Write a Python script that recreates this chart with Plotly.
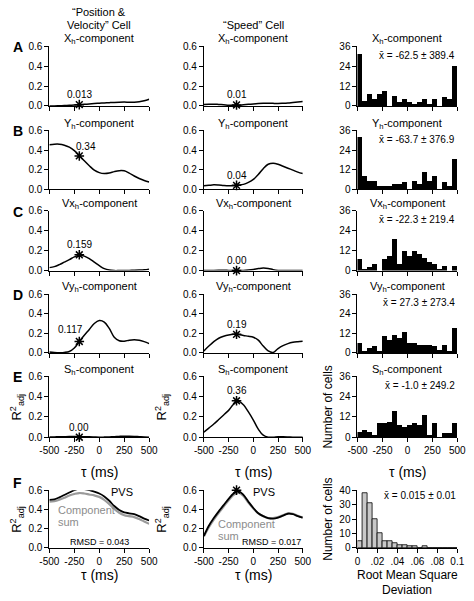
import plotly.graph_objects as go

# ---------------- data ----------------
TAU = [-500, -450, -400, -350, -300, -250, -200, -150, -100, -50, 0,
       50, 100, 150, 200, 250, 300, 350, 400, 450, 500]

# "Position & Velocity" cell
pv_xh = [0.0, 0.0, 0.002, 0.004, 0.006, 0.009, 0.013, 0.016, 0.02, 0.024, 0.027,
         0.03, 0.033, 0.036, 0.038, 0.039, 0.038, 0.038, 0.042, 0.052, 0.068]
pv_yh = [0.455, 0.46, 0.46, 0.45, 0.43, 0.395, 0.345, 0.29, 0.24, 0.195, 0.17,
         0.16, 0.165, 0.18, 0.19, 0.188, 0.165, 0.135, 0.11, 0.09, 0.075]
pv_vx = [0.03, 0.04, 0.06, 0.085, 0.11, 0.138, 0.155, 0.145, 0.12, 0.085, 0.05,
         0.02, 0.005, 0.0, 0.0, 0.0, 0.002, 0.003, 0.005, 0.008, 0.015]
pv_vy = [0.01, 0.005, 0.003, 0.005, 0.015, 0.05, 0.117, 0.18, 0.24, 0.3, 0.33,
         0.315, 0.25, 0.16, 0.125, 0.12, 0.13, 0.135, 0.13, 0.115, 0.095]
pv_sh = [0.002, 0.003, 0.004, 0.005, 0.006, 0.006, 0.006, 0.005, 0.004, 0.002, 0.0,
         0.001, 0.003, 0.005, 0.008, 0.01, 0.01, 0.008, 0.005, 0.002, 0.0]
pv_pvs = [0.5, 0.505, 0.525, 0.55, 0.575, 0.6, 0.615, 0.61, 0.6, 0.585, 0.565,
          0.535, 0.49, 0.435, 0.395, 0.37, 0.36, 0.35, 0.33, 0.305, 0.285]
pv_sum = [0.48, 0.485, 0.5, 0.52, 0.545, 0.56, 0.57, 0.565, 0.555, 0.545, 0.53,
          0.5, 0.455, 0.405, 0.365, 0.34, 0.33, 0.32, 0.3, 0.275, 0.25]
pv_star_tau = -200
pv_star_vals = [0.013, 0.34, 0.159, 0.117, 0.0, 0.615]
pv_star_text = ["0.013", "0.34", "0.159", "0.117", "0.00", ""]

# "Speed" cell
sp_xh = [0.015, 0.018, 0.018, 0.015, 0.012, 0.008, 0.006, 0.008, 0.012, 0.016, 0.02,
         0.024, 0.027, 0.028, 0.026, 0.025, 0.027, 0.03, 0.035, 0.04, 0.045]
sp_yh = [0.035, 0.04, 0.045, 0.043, 0.038, 0.035, 0.037, 0.042, 0.05, 0.07, 0.1,
         0.15, 0.21, 0.255, 0.265, 0.255, 0.235, 0.215, 0.195, 0.175, 0.16]
sp_vx = [0.0, 0.0, 0.002, 0.003, 0.003, 0.002, 0.001, 0.0, 0.002, 0.006, 0.012,
         0.02, 0.026, 0.022, 0.01, 0.002, 0.0, 0.0, 0.0, 0.0, 0.0]
sp_vy = [0.02, 0.07, 0.115, 0.15, 0.17, 0.183, 0.19, 0.188, 0.178, 0.17, 0.16,
         0.13, 0.07, 0.02, 0.005, 0.045, 0.075, 0.095, 0.108, 0.115, 0.12]
sp_sh = [0.05, 0.09, 0.13, 0.175, 0.22, 0.265, 0.325, 0.355, 0.32, 0.25, 0.17,
         0.08, 0.02, 0.0, 0.0, 0.005, 0.005, 0.003, 0.0, 0.0, 0.0]
sp_pvs = [0.125, 0.23, 0.31, 0.38, 0.445, 0.51, 0.565, 0.59, 0.55, 0.48, 0.415,
          0.36, 0.33, 0.31, 0.305, 0.315, 0.335, 0.355, 0.35, 0.33, 0.315]
sp_sum = [0.12, 0.215, 0.295, 0.365, 0.43, 0.495, 0.55, 0.575, 0.54, 0.47, 0.41,
          0.36, 0.33, 0.31, 0.31, 0.32, 0.34, 0.36, 0.355, 0.335, 0.315]
sp_star_tau = -170
sp_star_vals = [0.01, 0.04, 0.0, 0.19, 0.36, 0.6]
sp_star_text = ["0.01", "0.04", "0.00", "0.19", "0.36", ""]

# population histograms of optimal tau
HIST_TAU = [-475, -425, -375, -325, -275, -225, -175, -125, -75, -25,
            25, 75, 125, 175, 225, 275, 325, 375, 425, 475]
hist_xh = [31, 3, 7, 4, 7, 9, 0, 6, 2, 4, 2, 1, 2, 4, 1, 4, 0, 5, 4, 24]
hist_yh = [32, 8, 5, 5, 2, 2, 2, 3, 3, 4, 0, 5, 3, 10, 5, 8, 0, 4, 2, 18]
hist_vx = [7, 1, 2, 4, 0, 7, 9, 19, 4, 12, 9, 12, 10, 8, 5, 4, 1, 3, 0, 3]
hist_vy = [6, 1, 3, 4, 1, 10, 8, 11, 9, 13, 6, 6, 5, 5, 5, 4, 2, 5, 1, 15]
hist_sh = [3, 4, 3, 1, 8, 8, 9, 15, 7, 6, 7, 8, 7, 13, 1, 8, 0, 2, 2, 8]
hist_means = ["x\u0304 = -62.5 \u00b1 389.4", "x\u0304 = -63.7 \u00b1 376.9",
              "x\u0304 = -22.3 \u00b1 219.4", "x\u0304 = 27.3 \u00b1 273.4",
              "x\u0304 = -1.0 \u00b1 249.2"]

RMSD_BINS = [0.0025, 0.0075, 0.0125, 0.0175, 0.0225, 0.0275, 0.0325, 0.0375, 0.0425, 0.0475,
             0.0525, 0.0575, 0.0625, 0.0675, 0.0725, 0.0775, 0.0825, 0.0875, 0.0925, 0.0975]
rmsd_counts = [5, 38, 31, 20, 10, 5, 5, 3, 2, 2, 1, 1, 0, 1, 0, 0, 0, 0, 0, 0]
rmsd_mean = "x\u0304 = 0.015 \u00b1 0.01"

COMP_TITLES = ["X<sub>h</sub>-component", "Y<sub>h</sub>-component",
               "Vx<sub>h</sub>-component", "Vy<sub>h</sub>-component",
               "S<sub>h</sub>-component"]
PANEL_LETTERS = ["A", "B", "C", "D", "E", "F"]
TAU_TICKS = [-500, -250, 0, 250, 500]
TAU_TICKTEXT = ["-500", "-250", "0", "250", "500"]
R_TICKS = [0, 0.2, 0.4, 0.6]
R_TICKTEXT = ["0.0", "0.2", "0.4", "0.6"]
N_TICKS = [0, 12, 24, 36]
RMSD_TICKS = [0, 0.02, 0.04, 0.06, 0.08, 0.1]
RMSD_TICKTEXT = ["0", ".02", ".04", ".06", ".08", "0.1"]

# ---------------- layout geometry (pixels) ----------------
W, H = 474, 601
FONT = "Liberation Sans, Arial, sans-serif"
COLS = [(41, 145), (202, 305), (362, 466)]
ROWS = [(41, 102), (127, 187), (209, 270), (294, 354), (378, 440), (494, 553)]


def px(x):
    return x / W


def py(y):
    return 1 - y / H


def aid(r, c):
    return r * 3 + c + 1


fig = go.Figure()
layout = {}
ann = []

axis_style = dict(showline=True, linecolor="black", linewidth=1, ticks="outside",
                  ticklen=4, tickwidth=1, tickcolor="black", showgrid=False,
                  zeroline=False, fixedrange=True, tickangle=0,
                  tickfont=dict(size=10, color="black", family=FONT))

for r in range(6):
    for c in range(3):
        i = aid(r, c)
        x0, x1 = COLS[c]
        ytop, ybot = ROWS[r]
        xa = dict(axis_style, domain=[px(x0), px(x1)], anchor=f"y{i}")
        ya = dict(axis_style, domain=[py(ybot), py(ytop)], anchor=f"x{i}")
        if c == 2 and r == 5:
            xa.update(range=[0, 0.1], tickvals=RMSD_TICKS, ticktext=RMSD_TICKTEXT)
            ya.update(range=[0, 40], tickvals=[0, 10, 20, 30, 40])
        else:
            xa.update(range=[-500, 500], tickvals=TAU_TICKS, ticktext=TAU_TICKTEXT,
                      showticklabels=(r >= 4))
            if c == 2:
                ya.update(range=[0, 36], tickvals=N_TICKS)
            else:
                ya.update(range=[0, 0.6], tickvals=R_TICKS, ticktext=R_TICKTEXT)
        layout["xaxis" if i == 1 else f"xaxis{i}"] = xa
        layout["yaxis" if i == 1 else f"yaxis{i}"] = ya


def ref(i):
    return ("x" if i == 1 else f"x{i}"), ("y" if i == 1 else f"y{i}")


cells = [
    dict(series=[pv_xh, pv_yh, pv_vx, pv_vy, pv_sh], pvs=pv_pvs, csum=pv_sum,
         star_tau=pv_star_tau, star_vals=pv_star_vals, star_text=pv_star_text),
    dict(series=[sp_xh, sp_yh, sp_vx, sp_vy, sp_sh], pvs=sp_pvs, csum=sp_sum,
         star_tau=sp_star_tau, star_vals=sp_star_vals, star_text=sp_star_text),
]
label_shift = {  # (col,row) -> (xshift, yshift) of the value label
    (0, 1): (7, 9), (0, 3): (-9, 12),
}

for c, cell in enumerate(cells):
    for r in range(6):
        i = aid(r, c)
        xr, yr = ref(i)
        if r < 5:
            fig.add_trace(go.Scatter(x=TAU, y=cell["series"][r], mode="lines",
                                     line=dict(color="black", width=1.5, shape="spline"),
                                     xaxis=xr, yaxis=yr, hoverinfo="skip"))
        else:
            fig.add_trace(go.Scatter(x=TAU, y=cell["csum"], mode="lines",
                                     line=dict(color="#9a9a9a", width=2.2, shape="spline"),
                                     xaxis=xr, yaxis=yr, hoverinfo="skip"))
            fig.add_trace(go.Scatter(x=TAU, y=cell["pvs"], mode="lines",
                                     line=dict(color="black", width=1.8, shape="spline"),
                                     xaxis=xr, yaxis=yr, hoverinfo="skip"))
        fig.add_trace(go.Scatter(x=[cell["star_tau"]], y=[cell["star_vals"][r]],
                                 mode="markers",
                                 marker=dict(symbol="asterisk-open", size=8, color="black",
                                             line=dict(color="black", width=1.5)),
                                 xaxis=xr, yaxis=yr, cliponaxis=False, hoverinfo="skip"))
        if cell["star_text"][r]:
            xs, ys = label_shift.get((c, r), (0, 10))
            ann.append(dict(x=cell["star_tau"], y=cell["star_vals"][r], xref=xr, yref=yr,
                            text=cell["star_text"][r], showarrow=False,
                            xshift=xs, yshift=ys,
                            font=dict(size=10, color="black", family=FONT)))

# histograms
hists = [hist_xh, hist_yh, hist_vx, hist_vy, hist_sh]
for r in range(5):
    i = aid(r, 2)
    xr, yr = ref(i)
    fig.add_trace(go.Bar(x=HIST_TAU, y=hists[r], width=50,
                         marker=dict(color="black", line=dict(width=0)),
                         xaxis=xr, yaxis=yr, hoverinfo="skip"))
    ann.append(dict(x=px(466), y=py(ROWS[r][0] + 9), xref="paper", yref="paper",
                    xanchor="right", yanchor="middle", text=hist_means[r],
                    showarrow=False, font=dict(size=10, color="black", family=FONT)))

i = aid(5, 2)
xr, yr = ref(i)
fig.add_trace(go.Bar(x=RMSD_BINS, y=rmsd_counts, width=0.005,
                     marker=dict(color="#c8c8c8", line=dict(color="black", width=0.8)),
                     xaxis=xr, yaxis=yr, hoverinfo="skip"))
ann.append(dict(x=px(467), y=py(ROWS[5][0] + 5), xref="paper", yref="paper",
                xanchor="right", yanchor="middle", text=rmsd_mean,
                showarrow=False, font=dict(size=10, color="black", family=FONT)))

# titles above each subplot
col_centers = [(a + b) / 2 for a, b in COLS]
for r in range(5):
    for c in range(3):
        ann.append(dict(x=px(col_centers[c]), y=py(ROWS[r][0] - 7), xref="paper",
                        yref="paper", xanchor="center", yanchor="middle",
                        text=COMP_TITLES[r], showarrow=False,
                        font=dict(size=11, color="black", family=FONT)))

# column headers
for txt, x, y in [("\u201cPosition &", col_centers[0], 6),
                  ("Velocity\u201d Cell", col_centers[0], 19),
                  ("\u201cSpeed\u201d Cell", col_centers[1], 19)]:
    ann.append(dict(x=px(x), y=py(y), xref="paper", yref="paper", xanchor="center",
                    yanchor="middle", text=txt, showarrow=False,
                    font=dict(size=11, color="black", family=FONT)))

# panel letters
for r, L in enumerate(PANEL_LETTERS):
    yy = ROWS[r][0] + 1 if r < 5 else 487
    ann.append(dict(x=px(1), y=py(yy), xref="paper", yref="paper", xanchor="left",
                    yanchor="middle", text=f"<b>{L}</b>", showarrow=False,
                    font=dict(size=14, color="black", family=FONT)))

# tau axis titles
for c in range(3):
    for yy in (475, 581):
        if c == 2 and yy == 581:
            continue
        ann.append(dict(x=px(col_centers[c]), y=py(yy), xref="paper", yref="paper",
                        xanchor="center", yanchor="middle", text="\u03c4 (ms)",
                        showarrow=False, font=dict(size=14, color="black", family=FONT)))
for txt, yy in [("Root Mean Square", 581), ("Deviation", 596)]:
    ann.append(dict(x=px(col_centers[2]), y=py(yy), xref="paper", yref="paper",
                    xanchor="center", yanchor="middle", text=txt, showarrow=False,
                    font=dict(size=12, color="black", family=FONT)))

# y-axis titles
for x, r in [(7, 4), (7, 5), (158, 4), (158, 5)]:
    yc = (ROWS[r][0] + ROWS[r][1]) / 2
    ann.append(dict(x=px(x), y=py(yc), xref="paper", yref="paper", xanchor="center",
                    yanchor="middle", text="R<sup>2</sup><sub>adj</sub>",
                    textangle=-90, showarrow=False,
                    font=dict(size=13, color="black", family=FONT)))
for r in (4, 5):
    yc = (ROWS[r][0] + ROWS[r][1]) / 2
    ann.append(dict(x=px(331), y=py(yc), xref="paper", yref="paper", xanchor="center",
                    yanchor="middle", text="Number of cells", textangle=-90,
                    showarrow=False, font=dict(size=12, color="black", family=FONT)))

# F panel annotations
ix0, iy0 = ref(aid(5, 0))
ix1, iy1 = ref(aid(5, 1))
ann += [
    dict(x=100, y=0.585, xref=ix0, yref=iy0, text="PVS", showarrow=False,
         xanchor="left", font=dict(size=11, color="black", family=FONT)),
    dict(x=-435, y=0.39, xref=ix0, yref=iy0, text="Component", showarrow=False,
         xanchor="left", font=dict(size=11, color="#8c8c8c", family=FONT)),
    dict(x=-435, y=0.27, xref=ix0, yref=iy0, text="sum", showarrow=False,
         xanchor="left", font=dict(size=11, color="#8c8c8c", family=FONT)),
    dict(x=0, y=0.065, xref=ix0, yref=iy0, text="RMSD = 0.043", showarrow=False,
         xanchor="center", font=dict(size=9, color="black", family=FONT)),
    dict(x=-20, y=0.585, xref=ix1, yref=iy1, text="PVS", showarrow=False,
         xanchor="left", font=dict(size=11, color="black", family=FONT)),
    dict(x=-380, y=0.245, xref=ix1, yref=iy1, text="Component", showarrow=False,
         xanchor="left", font=dict(size=11, color="#8c8c8c", family=FONT)),
    dict(x=-380, y=0.12, xref=ix1, yref=iy1, text="sum", showarrow=False,
         xanchor="left", font=dict(size=11, color="#8c8c8c", family=FONT)),
    dict(x=500, y=0.065, xref=ix1, yref=iy1, text="RMSD = 0.017", showarrow=False,
         xanchor="right", font=dict(size=9, color="black", family=FONT)),
]

fig.update_layout(
    width=W, height=H, margin=dict(l=0, r=0, t=0, b=0),
    paper_bgcolor="white", plot_bgcolor="white", showlegend=False,
    bargap=0, barmode="overlay", font=dict(family=FONT, color="black"),
    annotations=ann, **layout)

fig.write_html("out.html", config={"displayModeBar": False},
               post_script="document.body.style.margin='0';")
